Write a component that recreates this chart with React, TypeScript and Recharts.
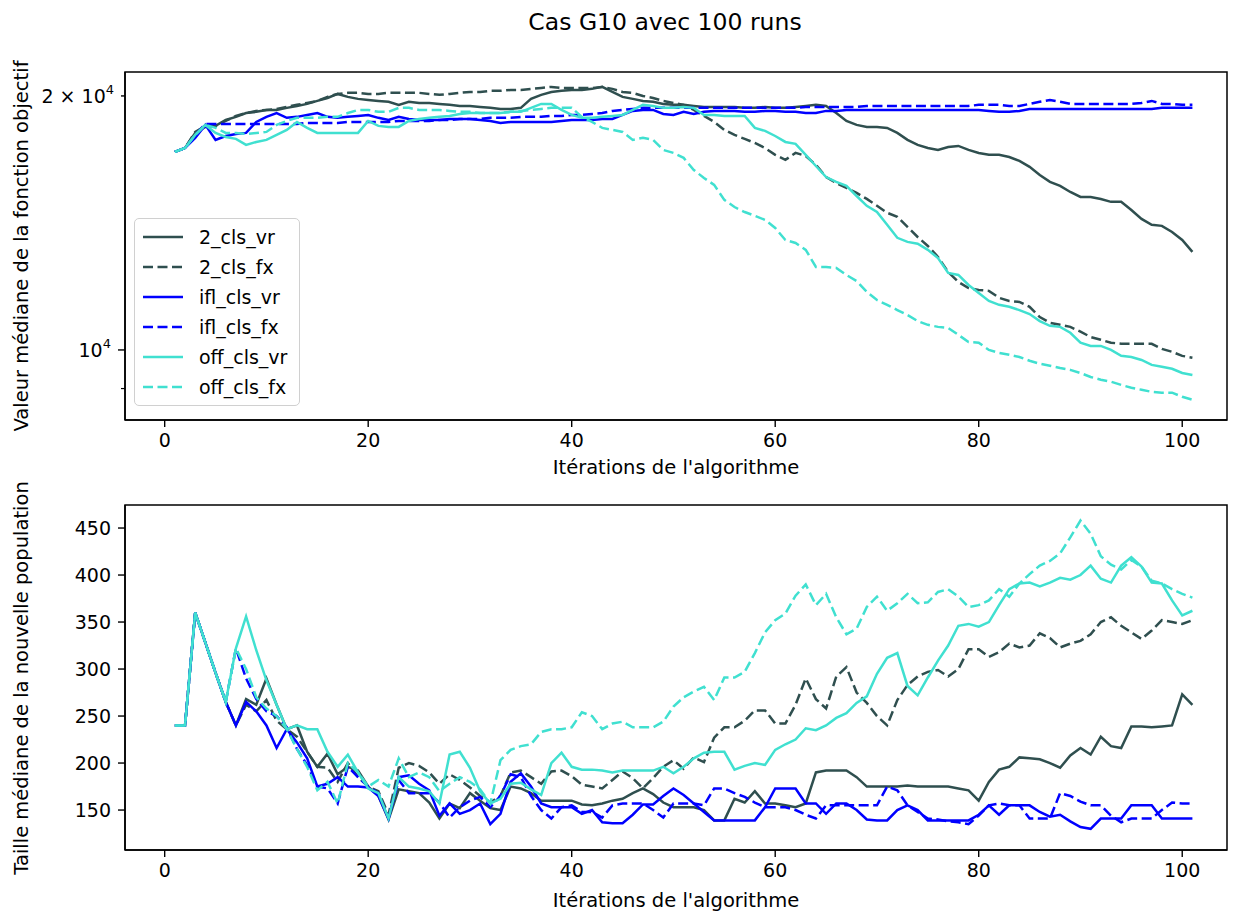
import React from "react";
import { LineChart, Line, XAxis, YAxis, ReferenceArea } from "recharts";

// iteration numbers (x categories)
const iterations = Array.from({ length: 101 }, (_, k) => k + 1);

// median objective value (top panel, log scale)
const fit2Vr = [
  17170, 17350, 18080, 18380, 18430, 18730, 18890, 19090, 19150, 19250,
  19250, 19360, 19460, 19570, 19730, 19890, 20110, 19950, 19840, 19780,
  19730, 19680, 19520, 19680, 19620, 19620, 19570, 19520, 19460, 19460,
  19410, 19360, 19300, 19300, 19360, 19840, 20060, 20220, 20280, 20330,
  20330, 20390, 20500, 20220, 19950, 19840, 19730, 19680, 19570, 19520,
  19520, 19460, 19410, 19410, 19410, 19410, 19360, 19360, 19410, 19360,
  19360, 19410, 19460, 19520, 19460, 19090, 18680, 18480, 18380, 18380,
  18330, 18080, 17740, 17500, 17350, 17260, 17400, 17450, 17260, 17120,
  17030, 17030, 16930, 16750, 16480, 16120, 15820, 15650, 15390, 15180,
  15180, 15100, 14980, 14980, 14650, 14300, 14070, 14030, 13800, 13500, 13070,
];
const fit2Fx = [
  17170, 17350, 18130, 18430, 18430, 18680, 18940, 19090, 19200, 19250,
  19300, 19410, 19520, 19620, 19730, 19950, 20110, 20170, 20170, 20110,
  20110, 20170, 20170, 20170, 20170, 20110, 20060, 20110, 20170, 20220,
  20220, 20280, 20280, 20330, 20330, 20390, 20440, 20500, 20440, 20440,
  20440, 20440, 20500, 20390, 20220, 20170, 20000, 19890, 19730, 19620,
  19520, 19250, 18940, 18630, 18230, 17980, 17790, 17590, 17350, 17030,
  16800, 17120, 16980, 16570, 16030, 15770, 15560, 15350, 15100, 14820,
  14540, 14380, 13990, 13610, 13280, 12890, 12370, 12040, 11840, 11780,
  11750, 11530, 11430, 11400, 11250, 10940, 10770, 10710, 10650, 10510,
  10360, 10280, 10200, 10170, 10170, 10170, 10170, 10030, 9950, 9840, 9790,
];
const fitIflVr = [
  17170, 17350, 17840, 18480, 17740, 17930, 18030, 18080, 18630, 18890,
  19090, 18840, 18890, 18990, 19090, 18890, 18840, 18890, 18940, 18990,
  18840, 18730, 18890, 18780, 18730, 18730, 18730, 18780, 18780, 18780,
  18730, 18680, 18580, 18630, 18630, 18630, 18630, 18630, 18680, 18730,
  18730, 18730, 18780, 18780, 18990, 19200, 19250, 19250, 19040, 18990,
  19150, 19040, 19150, 19200, 19200, 19200, 19150, 19150, 19200, 19200,
  19150, 19150, 19090, 19090, 19200, 19200, 19250, 19250, 19250, 19250,
  19250, 19250, 19250, 19250, 19250, 19250, 19250, 19250, 19250, 19250,
  19200, 19150, 19150, 19200, 19300, 19300, 19300, 19300, 19300, 19300,
  19300, 19300, 19300, 19300, 19300, 19300, 19300, 19360, 19360, 19360, 19360,
];
const fitIflFx = [
  17170, 17350, 17980, 18530, 18530, 18530, 18530, 18530, 18530, 18530,
  18530, 18530, 18530, 18580, 18580, 18580, 18580, 18630, 18630, 18630,
  18630, 18630, 18680, 18680, 18680, 18680, 18730, 18730, 18780, 18780,
  18780, 18840, 18840, 18840, 18890, 18890, 18890, 18940, 18940, 18990,
  18990, 19040, 19090, 19200, 19250, 19300, 19360, 19360, 19360, 19360,
  19360, 19360, 19360, 19360, 19360, 19360, 19360, 19360, 19360, 19360,
  19360, 19360, 19410, 19410, 19410, 19410, 19410, 19410, 19460, 19460,
  19460, 19460, 19460, 19460, 19460, 19460, 19460, 19460, 19460, 19520,
  19520, 19520, 19460, 19460, 19570, 19680, 19780, 19680, 19570, 19570,
  19570, 19570, 19570, 19570, 19570, 19620, 19730, 19570, 19570, 19520, 19520,
];
const fitOffVr = [
  17170, 17350, 17980, 18480, 18080, 17880, 17790, 17500, 17640, 17740,
  17980, 18230, 18630, 18330, 18080, 18080, 18080, 18080, 18080, 18680,
  18430, 18380, 18380, 18680, 18780, 18840, 18890, 18940, 19040, 19090,
  19090, 19090, 19090, 19150, 19150, 19360, 19570, 19570, 19250, 18990,
  18840, 18840, 18890, 18940, 18990, 19250, 19520, 19460, 19360, 19360,
  19410, 19360, 18990, 18990, 18940, 18940, 18940, 18330, 18180, 17930,
  17640, 17550, 17030, 16520, 16030, 15820, 15650, 15220, 14820, 14570,
  14070, 13580, 13430, 13360, 13140, 12850, 12340, 12270, 11940, 11680,
  11430, 11310, 11250, 11150, 11030, 10820, 10680, 10650, 10480, 10200,
  10110, 10110, 10000, 9840, 9810, 9730, 9600, 9550, 9500, 9390, 9340,
];
const fitOffFx = [
  17170, 17350, 17980, 18480, 18330, 18080, 18080, 18030, 18080, 18130,
  18480, 18680, 18840, 18840, 18840, 18890, 18890, 19090, 19250, 19250,
  19150, 19150, 19360, 19360, 19250, 19250, 19250, 19200, 19150, 19150,
  19090, 19090, 19090, 19150, 19200, 19250, 19300, 19360, 19360, 19360,
  18890, 18630, 18330, 18230, 18130, 17740, 17840, 17740, 17260, 17120,
  16890, 16340, 15990, 15690, 15060, 14770, 14570, 14420, 14260, 13950,
  13500, 13390, 13140, 12540, 12540, 12510, 12270, 12070, 11720, 11460,
  11310, 11150, 11000, 10820, 10710, 10650, 10620, 10420, 10220, 10200,
  10000, 9920, 9870, 9810, 9710, 9630, 9580, 9520, 9470, 9390,
  9290, 9220, 9170, 9090, 9020, 8970, 8920, 8900, 8900, 8800, 8730,
];

// median size of the new population (bottom panel)
const pop2Vr = [
  240, 240, 360, 328, 296, 265, 240, 268, 262, 290,
  262, 236, 240, 212, 196, 210, 188, 196, 192, 175,
  165, 140, 172, 170, 168, 158, 141, 157, 152, 168,
  160, 152, 150, 175, 173, 168, 160, 160, 160, 160,
  156, 155, 157, 160, 162, 168, 173, 167, 158, 153,
  153, 153, 150, 139, 139, 162, 158, 170, 157, 157,
  155, 153, 157, 190, 192, 192, 192, 185, 175, 175,
  175, 175, 176, 175, 175, 175, 175, 173, 171, 160,
  180, 193, 196, 206, 205, 204, 200, 195, 208, 216,
  209, 228, 218, 216, 239, 239, 238, 239, 240, 273, 262,
];
const pop2Fx = [
  240, 240, 360, 328, 296, 265, 240, 262, 255, 267,
  245, 236, 228, 212, 196, 195, 180, 200, 185, 175,
  170, 145, 195, 200, 197, 190, 178, 188, 182, 174,
  165, 158, 165, 190, 192, 185, 178, 191, 192, 186,
  177, 175, 173, 182, 191, 184, 173, 184, 196, 203,
  194, 206, 201, 227, 238, 238, 245, 256, 256, 242,
  242, 262, 290, 268, 258, 292, 302, 275, 264, 250,
  240, 267, 283, 292, 297, 299, 292, 300, 321, 321,
  313, 318, 327, 323, 325, 338, 333, 323, 327, 330,
  337, 350, 355, 346, 339, 332, 341, 352, 350, 348, 352,
];
const popIflVr = [
  240, 240, 360, 328, 296, 265, 240, 265, 255, 240,
  216, 236, 222, 205, 175, 178, 185, 175, 175, 174,
  165, 141, 185, 187, 178, 171, 144, 157, 146, 150,
  157, 135, 146, 180, 189, 175, 157, 153, 153, 153,
  146, 150, 137, 136, 136, 145, 156, 156, 165, 173,
  166, 157, 148, 139, 139, 139, 139, 139, 153, 173,
  173, 173, 157, 157, 146, 157, 157, 150, 140, 139,
  139, 150, 155, 150, 139, 139, 139, 139, 139, 145,
  155, 145, 155, 155, 155, 148, 143, 145, 138, 132,
  130, 141, 141, 141, 155, 155, 155, 141, 141, 141, 141,
];
const popIflFx = [
  240, 240, 360, 328, 296, 265, 322, 290, 268, 255,
  250, 238, 215, 198, 175, 173, 157, 196, 185, 175,
  168, 141, 182, 168, 168, 168, 158, 142, 153, 160,
  164, 153, 165, 188, 185, 165, 150, 141, 153, 155,
  148, 148, 142, 155, 157, 157, 157, 150, 142, 157,
  157, 157, 155, 173, 173, 168, 164, 158, 153, 153,
  153, 150, 145, 141, 155, 155, 155, 155, 155, 155,
  175, 171, 155, 148, 141, 140, 138, 137, 135, 144,
  155, 157, 155, 155, 141, 141, 141, 168, 165, 159,
  155, 155, 144, 137, 141, 141, 141, 150, 158, 157, 157,
];
const popOffVr = [
  240, 240, 360, 328, 296, 265, 322, 356, 320, 288,
  262, 236, 240, 236, 236, 212, 196, 209, 190, 173,
  168, 141, 185, 175, 173, 170, 157, 209, 212, 195,
  170, 157, 162, 178, 179, 172, 166, 200, 211, 196,
  193, 193, 192, 190, 192, 192, 192, 192, 196, 189,
  196, 205, 211, 212, 212, 193, 197, 200, 198, 214,
  220, 225, 237, 235, 240, 248, 253, 264, 271, 295,
  312, 317, 282, 272, 291, 309, 325, 346, 348, 345,
  350, 368, 385, 391, 392, 388, 392, 397, 395, 400,
  410, 396, 392, 410, 419, 409, 392, 391, 373, 357, 362,
];
const popOffFx = [
  240, 240, 360, 328, 296, 265, 322, 300, 270, 258,
  250, 236, 215, 196, 171, 180, 157, 200, 190, 175,
  182, 175, 205, 185, 190, 185, 170, 178, 185, 180,
  172, 157, 203, 214, 218, 220, 233, 236, 236, 238,
  254, 250, 236, 242, 244, 238, 238, 238, 244, 260,
  270, 276, 281, 267, 291, 291, 297, 317, 339, 352,
  359, 378, 390, 368, 380, 355, 337, 343, 366, 377,
  362, 370, 380, 370, 371, 382, 385, 377, 366, 368,
  373, 385, 377, 391, 401, 410, 415, 423, 440, 458,
  444, 420, 411, 406, 416, 409, 394, 391, 385, 380, 376,
];

const xTicks = [0, 20, 40, 60, 80, 100];
const fitTicks = [9000, 10000, 20000];
const popTicks = [150, 200, 250, 300, 350, 400, 450];

const seriesNames = ["2_cls_vr", "2_cls_fx", "ifl_cls_vr", "ifl_cls_fx", "off_cls_vr", "off_cls_fx"];
const seriesColors = ["#2f4f4f", "#2f4f4f", "#0000ff", "#0000ff", "#40e0d0", "#40e0d0"];
const seriesDashed = [false, true, false, true, false, true];

const fitSeries = [fit2Vr, fit2Fx, fitIflVr, fitIflFx, fitOffVr, fitOffFx];
const popSeries = [pop2Vr, pop2Fx, popIflVr, popIflFx, popOffVr, popOffFx];

const buildRows = (cols: number[][]) =>
  iterations.map((it, k) => {
    const row: Record<string, number> = { it };
    seriesNames.forEach((name, s) => (row[name] = cols[s][k]));
    return row;
  });

const fitRows = buildRows(fitSeries);
const popRows = buildRows(popSeries);

const FONT = "'DejaVu Sans', sans-serif";
const TICK_FS = 19;
const X_DOMAIN: [number, number] = [-3.9, 104.4];
const FIT_DOMAIN: [number, number] = [8260, 21350];
const POP_DOMAIN: [number, number] = [107.5, 474.5];

function LogTick(props: any) {
  const { x, y, payload } = props;
  const v = payload.value;
  const spine = x + 14;
  if (v === 9000) {
    return <line x1={spine - 4} x2={spine} y1={y} y2={y} stroke="#000" strokeWidth={1.2} />;
  }
  const len = v === 10000 ? 7 : 4;
  return (
    <g>
      <line x1={spine - len} x2={spine} y1={y} y2={y} stroke="#000" strokeWidth={1.4} />
      <text
        x={spine - len - 7}
        y={y + 7}
        textAnchor="end"
        fontSize={TICK_FS}
        fill="#000"
        fontFamily={FONT}
      >
        {v === 20000 ? "2 × 10" : "10"}
        <tspan dy={-9} fontSize={13}>
          4
        </tspan>
      </text>
    </g>
  );
}

const tickStyle = { fill: "#000", fontSize: TICK_FS, fontFamily: FONT };

function renderLines() {
  return seriesNames.map((name, s) => (
    <Line
      key={name}
      type="linear"
      dataKey={name}
      stroke={seriesColors[s]}
      strokeWidth={2.5}
      strokeDasharray={seriesDashed[s] ? "10 4.5" : undefined}
      dot={false}
      activeDot={false}
      isAnimationActive={false}
    />
  ));
}

// black box around the plotting area (matplotlib spines)
function frame(yDomain: [number, number]) {
  return (
    <ReferenceArea
      x1={X_DOMAIN[0]}
      x2={X_DOMAIN[1]}
      y1={yDomain[0]}
      y2={yDomain[1]}
      fill="none"
      fillOpacity={0}
      stroke="#000"
      strokeWidth={1.5}
      ifOverflow="visible"
    />
  );
}

function Legend() {
  return (
    <div
      style={{
        position: "absolute",
        left: 134,
        top: 218,
        width: 166,
        height: 188,
        border: "1px solid #d0d0d0",
        borderRadius: 5,
        background: "rgba(255,255,255,0.85)",
        boxSizing: "border-box",
      }}
    >
      {seriesNames.map((name, s) => (
        <div
          key={name}
          style={{
            position: "absolute",
            left: 7,
            top: 3 + s * 30,
            height: 30,
            display: "flex",
            alignItems: "center",
          }}
        >
          <svg width={42} height={10} style={{ marginRight: 15 }}>
            <line
              x1={1}
              x2={41}
              y1={5}
              y2={5}
              stroke={seriesColors[s]}
              strokeWidth={2.5}
              strokeDasharray={seriesDashed[s] ? "10 4.5" : undefined}
            />
          </svg>
          <span style={{ fontFamily: FONT, fontSize: 19, color: "#000", whiteSpace: "nowrap" }}>{name}</span>
        </div>
      ))}
    </div>
  );
}

const textBase: React.CSSProperties = {
  position: "absolute",
  fontFamily: FONT,
  color: "#000",
  whiteSpace: "nowrap",
  transform: "translate(-50%, -50%)",
};

export default function App() {
  return (
    <div style={{ position: "absolute", left: 0, top: 0, width: 1240, height: 914, background: "#fff", overflow: "hidden" }}>
      <div style={{ ...textBase, left: 665, top: 22, fontSize: 23.5 }}>Cas G10 avec 100 runs</div>

      <div style={{ position: "absolute", left: 0, top: 0 }}>
        <LineChart width={1240} height={480} data={fitRows} margin={{ top: 72, right: 13, bottom: 30, left: 60 }}>
          <XAxis
            dataKey="it"
            type="number"
            domain={X_DOMAIN}
            ticks={xTicks}
            height={30}
            tick={tickStyle}
            tickSize={7}
            tickMargin={7}
            axisLine={{ stroke: "#000", strokeWidth: 1.5 }}
            tickLine={{ stroke: "#000", strokeWidth: 1.4 }}
          />
          <YAxis
            scale="log"
            domain={FIT_DOMAIN}
            allowDataOverflow
            ticks={fitTicks}
            width={65}
            tick={<LogTick />}
            tickSize={7}
            tickMargin={7}
            tickLine={false}
            axisLine={{ stroke: "#000", strokeWidth: 1.5 }}
          />
          {frame(FIT_DOMAIN)}
          {renderLines()}
        </LineChart>
      </div>
      <Legend />
      <div style={{ ...textBase, left: 676, top: 467, fontSize: 19.5 }}>Itérations de l'algorithme</div>
      <div style={{ ...textBase, left: 21, top: 246, fontSize: 19.5, transform: "translate(-50%, -50%) rotate(-90deg)" }}>
        Valeur médiane de la fonction objectif
      </div>

      <div style={{ position: "absolute", left: 0, top: 433 }}>
        <LineChart width={1240} height={481} data={popRows} margin={{ top: 72, right: 13, bottom: 34, left: 60 }}>
          <XAxis
            dataKey="it"
            type="number"
            domain={X_DOMAIN}
            ticks={xTicks}
            height={30}
            tick={tickStyle}
            tickSize={7}
            tickMargin={7}
            axisLine={{ stroke: "#000", strokeWidth: 1.5 }}
            tickLine={{ stroke: "#000", strokeWidth: 1.4 }}
          />
          <YAxis
            domain={POP_DOMAIN}
            allowDataOverflow
            ticks={popTicks}
            width={65}
            tick={tickStyle}
            tickSize={7}
            tickMargin={7}
            axisLine={{ stroke: "#000", strokeWidth: 1.5 }}
            tickLine={{ stroke: "#000", strokeWidth: 1.4 }}
          />
          {frame(POP_DOMAIN)}
          {renderLines()}
        </LineChart>
      </div>
      <div style={{ ...textBase, left: 676, top: 900, fontSize: 19.5 }}>Itérations de l'algorithme</div>
      <div style={{ ...textBase, left: 21, top: 678, fontSize: 19.5, transform: "translate(-50%, -50%) rotate(-90deg)" }}>
        Taille médiane de la nouvelle population
      </div>
    </div>
  );
}
